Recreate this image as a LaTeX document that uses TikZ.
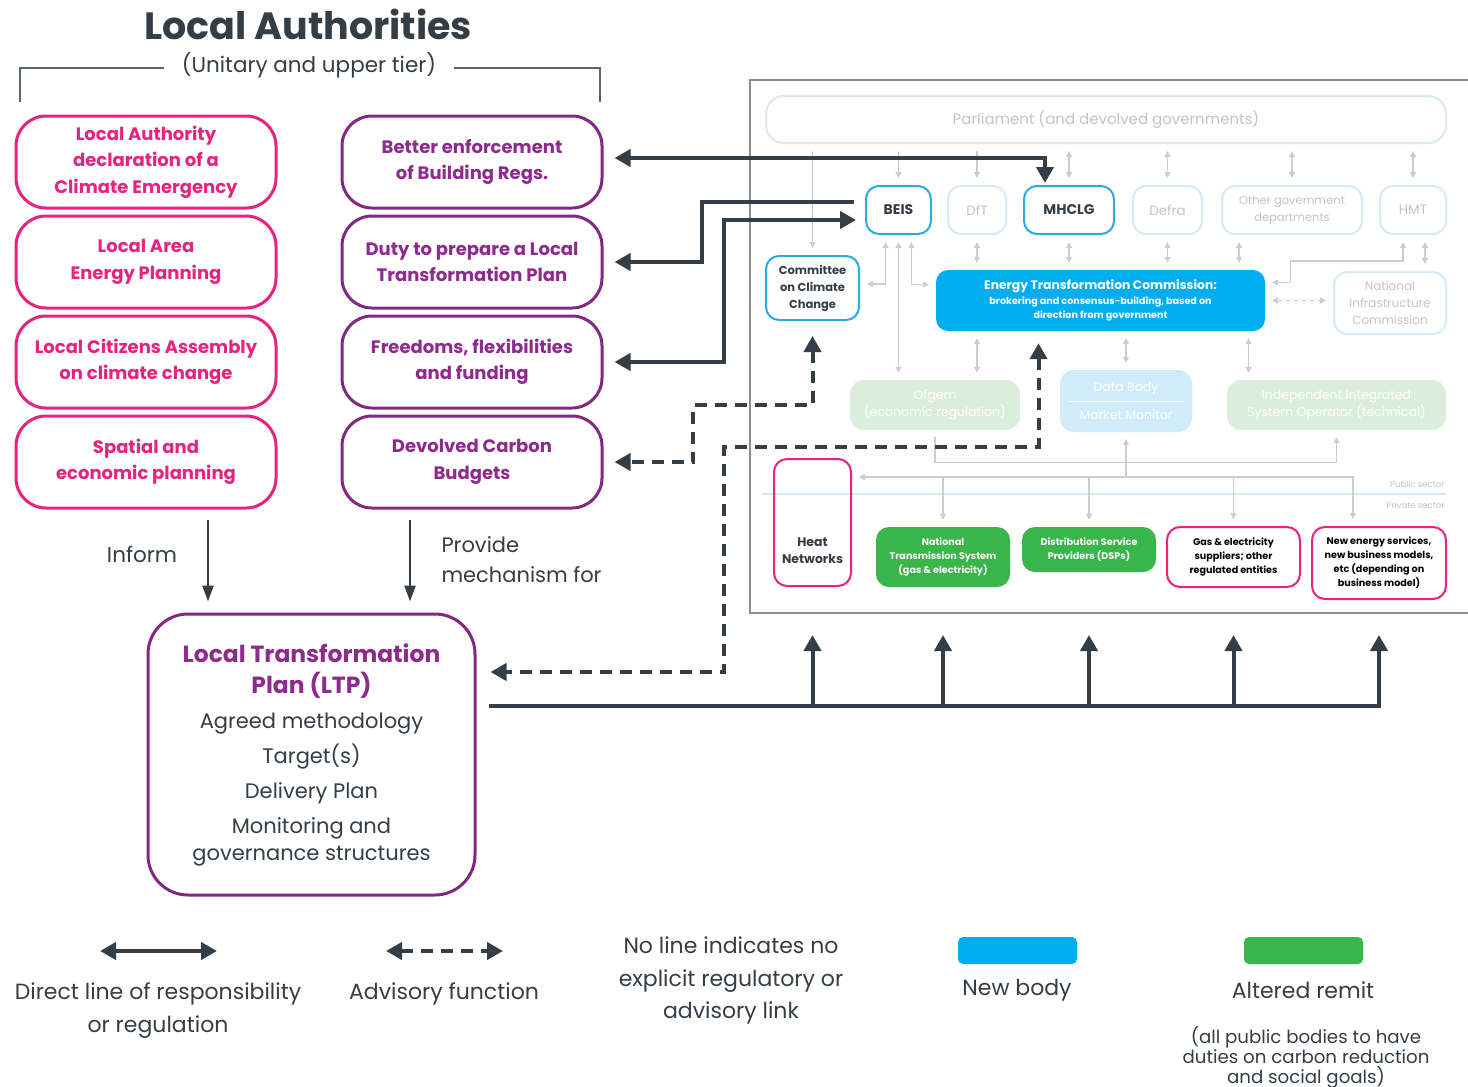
\documentclass[tikz,border=0pt]{standalone}
\usepackage{fontspec}
\setmainfont{Poppins}
\usetikzlibrary{arrows.meta}
\definecolor{dark}{RGB}{52,62,71}
\definecolor{lapink}{RGB}{231,35,127}
\definecolor{lapurple}{RGB}{128,40,130}
\definecolor{ltxt}{RGB}{142,42,142}
\definecolor{govblue}{RGB}{45,170,225}
\definecolor{newblue}{RGB}{0,174,239}
\definecolor{altgreen}{RGB}{57,181,74}
\definecolor{fadeline}{RGB}{205,205,205}
\definecolor{fadetext}{RGB}{196,196,196}
\definecolor{fadeblue}{RGB}{212,235,248}
\definecolor{fadegreen}{RGB}{218,238,218}
\definecolor{paleblue}{RGB}{208,236,250}
\definecolor{framegrey}{RGB}{140,140,140}
\begin{document}
\begin{tikzpicture}[x=1pt,y=-1pt,
  labox/.style={rectangle, rounded corners=30pt, draw=lapink, line width=3pt, minimum width=260pt, minimum height=92pt, inner sep=0pt, align=center, text=lapink, font=\bfseries\fontsize{18}{26.5}\selectfont},
  lbbox/.style={labox, draw=lapurple, text=ltxt},
  gbox/.style={rectangle, rounded corners=13pt, draw=govblue, line width=2pt, minimum height=48pt, inner sep=0pt, align=center, text=dark, font=\bfseries\fontsize{14}{17}\selectfont},
  fbox/.style={gbox, draw=fadeblue, text=fadetext, font=\fontsize{13.5}{17}\selectfont},
  sbox/.style={rectangle, rounded corners=14pt, minimum height=50pt, inner sep=0pt, align=center, text=white, font=\fontsize{12.5}{17}\selectfont},
  pbox/.style={rectangle, rounded corners=13pt, draw=lapink, line width=2pt, inner sep=0pt, align=center, text=black, font=\bfseries\fontsize{9.6}{14}\selectfont},
  gnbox/.style={rectangle, rounded corners=13pt, fill=altgreen, inner sep=0pt, align=center, text=white, font=\bfseries\fontsize{9.6}{14}\selectfont},
  legtext/.style={align=center, text=dark, font=\fontsize{22}{33}\selectfont},
  dline/.style={draw=dark, line width=4pt, >={Triangle[length=16pt,width=17pt]}},
  aline/.style={dline, dash pattern=on 12pt off 8pt},
  sline/.style={draw=dark, line width=2.5pt, >={Triangle[length=16pt,width=11pt]}},
  fline/.style={draw=fadeline, line width=1.3pt, >={Triangle[length=6pt,width=6pt]}, shorten >=7pt, shorten <=7pt}]
\useasboundingbox[fill=white] (0,0) rectangle (1468,1087);

% local authorities
\node[text=dark, font=\bfseries\fontsize{38}{40}\selectfont] (title) at (308,24) {Local Authorities};
\node[text=dark, font=\fontsize{21.5}{24}\selectfont] (sub) at (309,65) {(Unitary and upper tier)};
\draw[draw=dark!80, line width=1.5pt] (20,102) |- ([xshift=-14pt,yshift=-3pt]sub.west);
\draw[draw=dark!80, line width=1.5pt] ([xshift=14pt,yshift=-3pt]sub.east) -| (600,102);

\node[labox] (la1) at (146,162) {Local Authority\\declaration of a\\Climate Emergency};
\node[labox] (la2) at (146,262) {Local Area\\Energy Planning};
\node[labox] (la3) at (146,362) {Local Citizens Assembly\\on climate change};
\node[labox] (la4) at (146,462) {Spatial and\\economic planning};
\node[lbbox] (lb1) at (472,162) {Better enforcement\\of Building Regs.};
\node[lbbox] (lb2) at (472,262) {Duty to prepare a Local\\Transformation Plan};
\node[lbbox] (lb3) at (472,362) {Freedoms, flexibilities\\and funding};
\node[lbbox] (lb4) at (472,462) {Devolved Carbon\\Budgets};

\node[rectangle, rounded corners=40pt, draw=lapurple, line width=3pt, minimum width=327pt, minimum height=281pt, align=center, text=dark, font=\fontsize{21}{27}\selectfont] (ltp) at (311.5,754.5) {\textcolor{ltxt}{\bfseries\fontsize{23.4}{27}\selectfont Local Transformation}\\[4pt]\textcolor{ltxt}{\bfseries\fontsize{23.4}{27}\selectfont Plan (LTP)}\\[8pt]Agreed methodology\\[8pt]Target(s)\\[8pt]Delivery Plan\\[8pt]Monitoring and\\governance structures};

\coordinate (inf) at (208,0);
\coordinate (pmf) at (410,0);
\draw[sline,->,shorten <=10pt,shorten >=11pt] (la4.south -| inf) -- (ltp.north -| inf);
\draw[sline,->,shorten <=10pt,shorten >=11pt] (lb4.south -| pmf) -- (ltp.north -| pmf);
\node[text=dark, font=\fontsize{21.5}{30}\selectfont] (infl) at (142,554) {Inform};
\node[text=dark, font=\fontsize{21}{30}\selectfont, align=left, anchor=west] (pmfl) at (438,559.5) {Provide\\mechanism for};

% national bodies
\draw[draw=framegrey, line width=2pt] (1470,80) -- (750,80) -- (750,613) -- (1470,613);
\node[rectangle, rounded corners=18pt, draw=fadegreen, line width=2pt, minimum width=680pt, minimum height=47pt, text=fadetext, font=\fontsize{15}{17}\selectfont] (parl) at (1106,119.5) {Parliament (and devolved governments)};
\node[gbox, minimum width=65pt] (beis) at (898.5,210) {BEIS};
\node[fbox, minimum width=58pt] (dft) at (977,210) {DfT};
\node[gbox, minimum width=90pt] (mhclg) at (1069,210) {MHCLG};
\node[fbox, minimum width=69pt] (defra) at (1167.5,210) {Defra};
\node[fbox, minimum width=140pt, font=\fontsize{11.5}{17}\selectfont] (ogd) at (1292,210) {Other government\\departments};
\node[fbox, minimum width=66pt] (hmt) at (1413,210) {HMT};
\node[gbox, minimum width=93pt, minimum height=64pt, font=\bfseries\fontsize{11.5}{17}\selectfont] (ccc) at (812.5,288) {Committee\\on Climate\\Change};
\node[rectangle, rounded corners=12pt, fill=newblue, minimum width=329pt, minimum height=61pt, inner sep=0pt, align=center, text=white, font=\bfseries\fontsize{9.6}{14}\selectfont] (etc) at (1100.5,300.5) {{\fontsize{12.3}{14}\selectfont Energy Transformation Commission:}\\[1pt]brokering and consensus-building, based on\\direction from government};
\node[fbox, minimum width=112pt, minimum height=62pt, font=\fontsize{12}{17}\selectfont] (nic) at (1390,303) {National\\Infrastructure\\Commission};
\node[sbox, fill=fadegreen, minimum width=170pt] (ofgem) at (935,405) {Ofgem\\(economic regulation)};
\node[sbox, fill=paleblue, minimum width=132pt, minimum height=62pt, font=\fontsize{12.5}{28}\selectfont] (data) at (1126,401) {Data Body\\Market Monitor};
\draw[draw=white, line width=1pt] ([xshift=8pt]data.west) -- ([xshift=-8pt]data.east);
\node[sbox, fill=fadegreen, minimum width=219pt] (iso) at (1336.5,405) {Independent Integrated\\System Operator (technical)};

\draw[draw=fadeblue, line width=2pt] (762,494) -- (1446,494);
\node[text=fadetext, font=\fontsize{8.5}{10}\selectfont, anchor=east] (pub) at (1448,484) {Public sector};
\node[text=fadetext, font=\fontsize{8.5}{10}\selectfont, anchor=east] (priv) at (1448,505) {Private sector};

\node[pbox, minimum width=77pt, minimum height=127pt, label={[text=dark, font=\bfseries\fontsize{12.5}{17}\selectfont, align=center, yshift=-28pt]center:Heat\\Networks}] (heat) at (812.5,522.5) {};
\node[gnbox, minimum width=134pt, minimum height=60pt] (nts) at (943,557) {National\\Transmission System\\(gas \& electricity)};
\node[gnbox, minimum width=134pt, minimum height=45pt] (dsp) at (1089,549.5) {Distribution Service\\Providers (DSPs)};
\node[pbox, minimum width=133pt, minimum height=60pt] (gas) at (1233.5,557) {Gas \& electricity\\suppliers; other\\regulated entities};
\node[pbox, minimum width=134pt, minimum height=72pt] (nes) at (1379,563) {New energy services,\\new business models,\\etc (depending on\\business model)};

% faint links
\draw[fline,->] (parl.south -| ccc) -- (ccc.north);
\draw[fline,->] (parl.south -| beis) -- (beis.north);
\draw[fline,->] (parl.south -| dft) -- (dft.north);
\foreach \g in {mhclg,defra,ogd,hmt} \draw[fline,<->] (parl.south -| \g) -- (\g.north);
\foreach \g in {dft,mhclg,defra} \draw[fline,<->] (\g.south) -- (\g.south |- etc.north);
\coordinate (ogdx) at ([xshift=-53pt]ogd.south);
\draw[fline,<->] (ogdx) -- (ogdx |- etc.north);
\draw[fline,<->] ([xshift=-10pt]hmt.south) -- ++(0,26) -| ([xshift=25pt,yshift=18pt]etc.east) -- ([yshift=18pt]etc.east);
\coordinate (hmtx) at ([xshift=12pt]hmt.south);
\draw[fline,<->] (hmtx) -- (hmtx |- nic.north);
\draw[fline,<->,dash pattern=on 4pt off 4pt] (etc.east) -- (etc.east -| nic.west);
\draw[fline,<->] ([xshift=-13pt]beis.south) |- ([yshift=4pt]ccc.east);
\draw[fline,<->] (beis.south) -- (beis.south |- ofgem.north);
\draw[fline,<->] ([xshift=13pt]beis.south) |- ([yshift=16pt]etc.west);
\draw[fline,<->] (dft.south |- etc.south) -- (dft.south |- ofgem.north);
\draw[fline,<->] (data.north |- etc.south) -- (data.north);
\coordinate (isox) at ([xshift=-88pt]iso.north);
\draw[fline,<->] (isox |- etc.south) -- (isox);
\draw[fline,->] (ofgem.south) -- ++(0,32) -| (iso.south);
\coordinate (pb) at (0,477);
\coordinate (nesx) at ([xshift=-26pt]nes.north);
\draw[fline,->,shorten <=0pt] (data.south |- pb) -- (data.south);
\draw[fline,<->] (heat.east |- pb) -- (nesx |- pb) -- (nesx);
\foreach \b in {nts,dsp,gas} \draw[fline,->,shorten <=0pt] (\b.north |- pb) -- (\b.north);

% direct lines
\draw[dline,<->,shorten <=11pt,shorten >=2pt] ([yshift=4pt]lb1.east) -| ([xshift=-24pt]mhclg.north);
\coordinate (b2) at (702,0);
\draw[dline,->,shorten <=11pt,shorten >=11pt] ([yshift=8pt]beis.west) -| (b2 |- lb2.east) -- (lb2.east);
\coordinate (b3) at (724,0);
\coordinate (b3w) at ([yshift=-10pt]beis.west);
\draw[dline,<->,shorten <=11pt,shorten >=9pt] (lb3.east) -| (b3 |- b3w) -- (b3w);

% advisory lines
\coordinate (c1) at (693,405);
\draw[aline,<->,shorten <=15pt,shorten >=11pt] (ccc.south) |- (c1) |- (lb4.east);
\coordinate (etcx) at ([xshift=-62pt]etc.south);
\coordinate (c2) at (724,447);
\draw[aline,<->,shorten <=12pt,shorten >=14pt] (etcx) |- (c2) |- ([yshift=82.5pt]ltp.east);

% ltp to delivery bodies
\coordinate (bus) at (0,706);
\coordinate (bustop) at (0,635);
\draw[dline,->,shorten <=12pt] (ltp.east |- bus) -- (nes |- bus) -- (nes |- bustop);
\foreach \b in {heat,nts,dsp,gas} \draw[dline,->] (\b |- bus) -- (\b |- bustop);

% key
\coordinate (k1a) at (100,951);
\coordinate (k1b) at (217,951);
\draw[dline,<->] (k1a) -- (k1b);
\coordinate (k2a) at (386,951);
\coordinate (k2b) at (503,951);
\draw[aline,<->] (k2a) -- (k2b);
\node[legtext] (k1t) at (158,1010.5) {Direct line of responsibility\\or regulation};
\node[legtext] (k2t) at (444,994) {Advisory function};
\node[legtext, font=\fontsize{22}{32.5}\selectfont] (k3t) at (731,980.5) {No line indicates no\\explicit regulatory or\\advisory link};
\node[rectangle, rounded corners=5pt, fill=newblue, minimum width=119pt, minimum height=27pt] (k4) at (1017.5,950.5) {};
\node[legtext] (k4t) at (1017,990) {New body};
\node[rectangle, rounded corners=5pt, fill=altgreen, minimum width=119pt, minimum height=27pt] (k5) at (1303.5,950.5) {};
\node[legtext] (k5t) at (1303,990) {Altered remit};
\node[legtext, font=\fontsize{18.2}{20}\selectfont] (k5n) at (1306,1057) {(all public bodies to have\\duties on carbon reduction\\and social goals)};

\end{tikzpicture}
\end{document}
